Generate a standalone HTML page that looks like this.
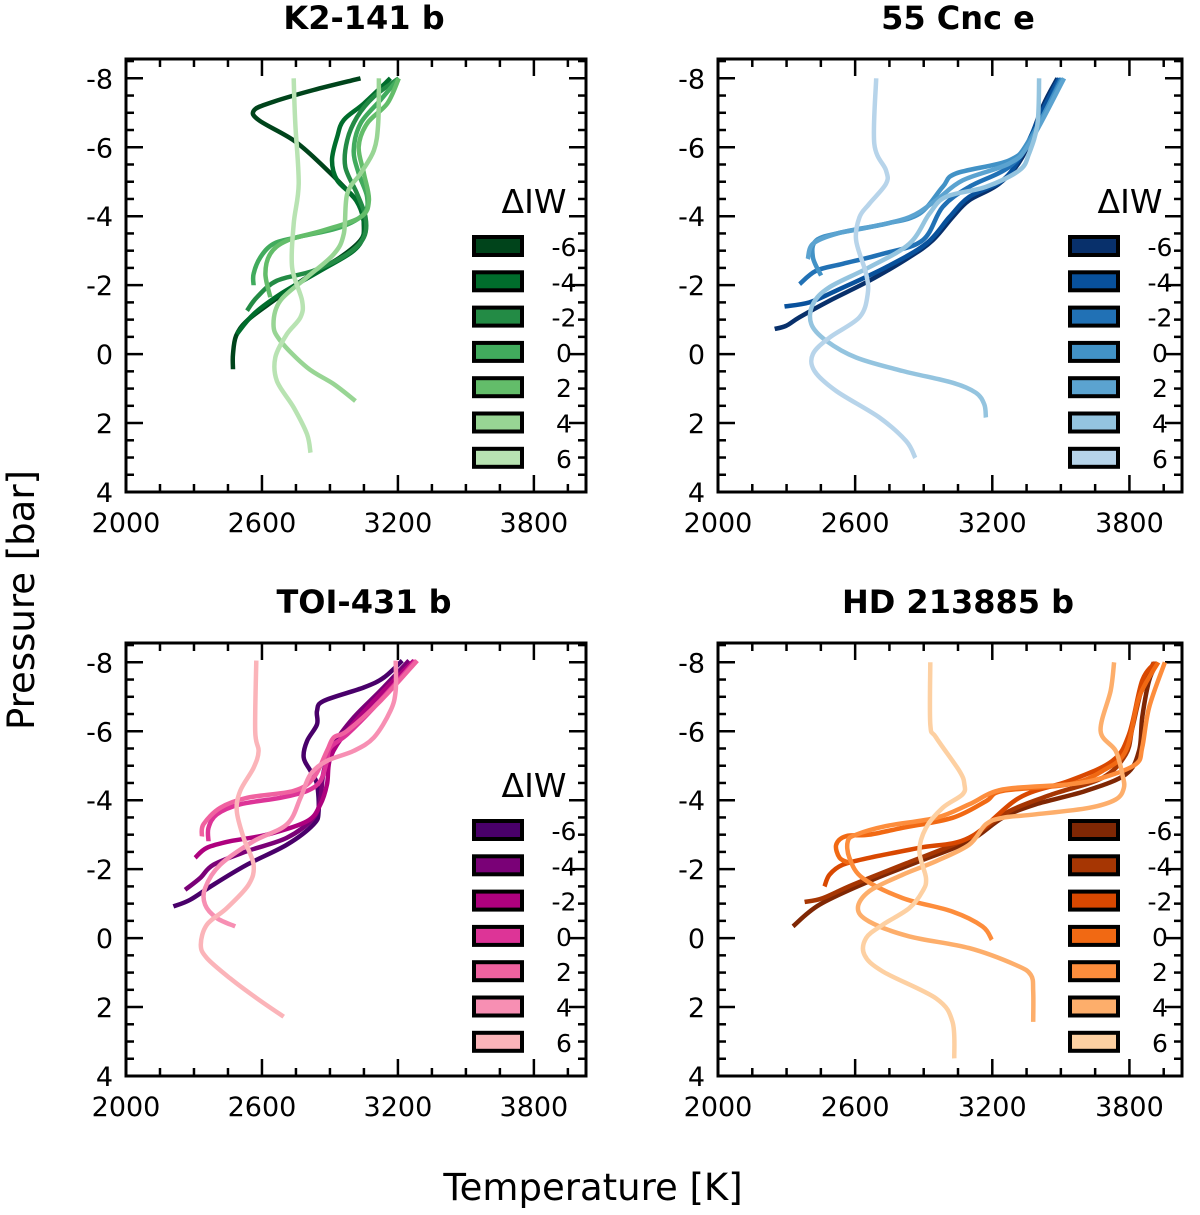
<!DOCTYPE html>
<html><head><meta charset="utf-8"><style>body{margin:0;background:#fff}svg{display:block;font-family:"DejaVu Sans","Liberation Sans",sans-serif}</style></head>
<body>
<svg id="fig" width="1200" height="1215" viewBox="0 0 1200 1215">
<text x="593" y="1200" font-size="37" text-anchor="middle">Temperature [K]</text>
<text transform="translate(34,600) rotate(-90)" font-size="37" text-anchor="middle">Pressure [bar]</text>
</svg>
<script>
const dIW = ["-6","-4","-2","0","2","4","6"];
const xTicks = [2000,2600,3200,3800];
const yTicks = [-8,-6,-4,-2,0,2,4];
const titles = ["K2-141 b","55 Cnc e","TOI-431 b","HD 213885 b"];
const greens = ["#00441b","#006d2c","#238b45","#41ab5d","#63bd6a","#98d594","#b8e3b2"];
const blues = ["#08306b","#08519c","#2171b5","#4292c6","#5ba3d0","#94c4df","#b7d4ea"];
const purples = ["#49006a","#7a0177","#ae017e","#dd3497","#f062a0","#f78fb3","#fbb4b9"];
const oranges = ["#7f2704","#a63603","#d94801","#f16913","#fd8d3c","#fdae6b","#fdd0a2"];

const k2T = [
[3035,2828,2651,2566,2585,2740,2858,2976,3035,3050,3035,2946,2799,2651,2534,2486,2472,2472],
[3167,3050,2961,2932,2909,2932,3005,3042,3050,3005,2858,2681,2563,2489],
[3204,3094,3020,2976,2968,3020,3057,3050,2976,2828,2666,2578,2534],
[3204,3123,3035,3005,3027,3064,3050,2946,2755,2651,2593,2563,2563],
[3204,3153,3064,3027,3050,3072,3035,2873,2710,2637,2615,2637],
[3116,3113,3094,3035,2976,2961,2917,2799,2681,2651,2681,2799,2917,3013],
[2740,2747,2762,2740,2733,2777,2770,2710,2659,2666,2740,2799,2814]];
const k2P = [
[-8,-7.66,-7.32,-7.08,-6.79,-6.2,-5.53,-4.75,-4.27,-3.68,-3.3,-2.81,-2.23,-1.55,-0.97,-0.53,0,0.44],
[-8,-7.27,-6.79,-6.3,-5.62,-5.04,-4.56,-4.07,-3.49,-3.0,-2.42,-1.74,-1.16,-0.58],
[-8,-7.47,-6.88,-6.2,-5.43,-4.65,-3.97,-3.39,-2.9,-2.42,-2.13,-1.65,-1.26],
[-8,-7.37,-6.69,-5.91,-5.24,-4.56,-4.07,-3.68,-3.39,-3.2,-2.81,-2.33,-2.0],
[-8,-7.27,-6.69,-6.01,-5.24,-4.46,-3.97,-3.59,-3.29,-2.91,-2.33,-1.65],
[-8,-6.69,-5.91,-5.24,-4.65,-3.49,-2.9,-2.23,-1.55,-0.87,-0.39,0.39,0.87,1.36],
[-8,-6.69,-4.94,-3.78,-2.52,-1.55,-1.07,-0.58,0.10,0.78,1.55,2.33,2.86]];

const cncT = [
[3485,3420,3332,3230,3099,3026,2939,2837,2662,2488,2357,2298,2248],
[3492,3420,3332,3245,3099,3012,2910,2735,2517,2400,2291],
[3500,3376,3274,3099,2983,2895,2721,2546,2430,2357],
[3507,3361,3274,3041,2983,2881,2735,2546,2430,2415,2451],
[3514,3361,3274,3070,2954,2837,2662,2517,2415,2393],
[3405,3398,3361,3318,3172,2997,2925,2837,2662,2488,2415,2408,2473,2604,2808,3026,3128,3165,3172],
[2692,2684,2735,2735,2662,2619,2604,2648,2655,2619,2488,2415,2422,2517,2706,2823,2863]];
const cncP = [
[-8,-7.18,-5.72,-4.94,-4.46,-3.97,-3.30,-2.81,-2.13,-1.55,-1.07,-0.82,-0.73],
[-8,-7.08,-5.82,-5.04,-4.56,-3.97,-3.2,-2.52,-1.84,-1.50,-1.38],
[-8,-6.30,-5.43,-4.85,-4.27,-3.30,-2.91,-2.62,-2.42,-2.03],
[-8,-6.2,-5.62,-5.24,-4.85,-4.07,-3.78,-3.54,-3.30,-2.81,-2.28],
[-8,-6.1,-5.53,-5.04,-4.46,-3.97,-3.68,-3.49,-3.2,-2.76],
[-8,-6.69,-5.82,-5.33,-4.85,-4.56,-4.07,-3.20,-2.52,-1.94,-1.45,-0.87,-0.39,0.10,0.49,0.83,1.12,1.46,1.84],
[-8,-6.1,-5.33,-4.94,-4.36,-3.97,-3.30,-2.33,-1.74,-1.07,-0.48,0,0.49,1.07,1.84,2.52,3.01]];

const toiT = [
[3219,3138,3049,2873,2843,2843,2799,2784,2814,2843,2850,2828,2710,2534,2386,2283,2209],
[3249,3123,3005,2917,2873,2858,2828,2710,2534,2386,2327,2261],
[3271,3123,2976,2902,2887,2858,2799,2622,2460,2357,2305],
[3278,3094,2976,2902,2887,2858,2799,2681,2504,2401,2364,2364],
[3285,3123,2976,2917,2887,2828,2740,2534,2416,2342,2335],
[3190,3190,3167,3094,3005,2887,2814,2770,2710,2563,2416,2349,2349,2401,2482],
[2575,2570,2585,2563,2504,2489,2519,2563,2541,2445,2357,2330,2357,2460,2578,2696]];
const toiP = [
[-8.05,-7.56,-7.27,-6.88,-6.59,-6.2,-5.72,-5.24,-4.85,-4.46,-3.68,-3.3,-2.71,-2.13,-1.55,-1.11,-0.92],
[-8.05,-7.18,-6.40,-5.62,-4.85,-4.07,-3.49,-2.91,-2.52,-2.13,-1.74,-1.40],
[-8.05,-7.08,-6.01,-5.24,-4.46,-3.88,-3.39,-3.0,-2.81,-2.62,-2.33],
[-8.05,-6.69,-5.91,-5.53,-5.14,-4.56,-4.27,-4.07,-3.88,-3.59,-3.20,-2.81],
[-8.05,-6.88,-6.01,-5.82,-5.43,-4.65,-4.27,-4.07,-3.78,-3.30,-2.95],
[-8.05,-7.18,-6.59,-5.82,-5.43,-5.14,-4.75,-4.07,-3.30,-2.81,-2.13,-1.45,-0.97,-0.58,-0.34],
[-8.05,-6.01,-5.43,-4.94,-4.27,-3.68,-2.91,-2.13,-1.55,-0.87,-0.39,0.19,0.58,1.17,1.75,2.28]];

const hdT = [
[3922,3886,3856,3842,3784,3609,3390,3245,3099,2881,2662,2444,2328],
[3907,3856,3813,3784,3682,3463,3274,3099,2808,2590,2459,2379],
[3915,3856,3798,3725,3536,3318,3099,2881,2662,2546,2488,2466],
[3926,3842,3784,3682,3536,3245,3172,3026,2808,2662,2561,2517,2532,2575],
[3955,3886,3856,3827,3682,3536,3245,3099,2954,2735,2604,2568,2575,2633,2808,3026,3157,3198],
[3733,3718,3674,3740,3769,3776,3740,3624,3390,3245,3172,3099,2954,2808,2662,2612,2662,2837,3099,3303,3369,3379,3379],
[2929,2929,2954,3056,3078,3070,2983,2910,2881,2910,2895,2837,2721,2648,2641,2721,2954,3026,3034]];
const hdP = [
[-8,-7.47,-6.40,-5.43,-4.75,-4.27,-3.88,-3.49,-2.81,-2.23,-1.65,-0.97,-0.34],
[-8,-7.27,-6.1,-5.33,-4.65,-4.17,-3.68,-2.91,-2.13,-1.55,-1.16,-1.05],
[-8,-7.47,-5.91,-5.14,-4.56,-4.07,-2.91,-2.62,-2.33,-2.13,-1.84,-1.50],
[-8,-6.98,-5.43,-4.85,-4.46,-4.27,-3.97,-3.49,-3.20,-3.0,-2.96,-2.71,-2.33,-2.18],
[-8,-6.69,-5.53,-5.04,-4.65,-4.46,-4.31,-3.88,-3.49,-3.25,-3.0,-2.81,-2.33,-1.74,-1.16,-0.77,-0.34,0.05],
[-8,-7.18,-6.01,-5.43,-4.75,-4.36,-4.02,-3.78,-3.59,-3.49,-3.30,-2.71,-2.23,-1.84,-1.36,-0.87,-0.48,-0.05,0.29,0.78,1.07,1.55,2.43],
[-8,-6.2,-5.82,-4.85,-4.46,-4.17,-3.78,-3.20,-2.52,-1.74,-1.36,-0.87,-0.39,0,0.49,0.97,1.75,2.43,3.49]];

const NS = "http://www.w3.org/2000/svg";
const svg = document.getElementById("fig");
function mk(tag, attrs, parent){const e=document.createElementNS(NS,tag);for(const k in attrs)e.setAttribute(k,attrs[k]);(parent||svg).appendChild(e);return e;}
function smooth(pts){
  let d="M"+pts[0][0].toFixed(1)+","+pts[0][1].toFixed(1);
  for(let i=0;i<pts.length-1;i++){
    const p0=pts[Math.max(0,i-1)],p1=pts[i],p2=pts[i+1],p3=pts[Math.min(pts.length-1,i+2)];
    const c1=[p1[0]+(p2[0]-p0[0])/6,p1[1]+(p2[1]-p0[1])/6];
    const c2=[p2[0]-(p3[0]-p1[0])/6,p2[1]-(p3[1]-p1[1])/6];
    d+=" C"+c1[0].toFixed(1)+","+c1[1].toFixed(1)+" "+c2[0].toFixed(1)+","+c2[1].toFixed(1)+" "+p2[0].toFixed(1)+","+p2[1].toFixed(1);
  }
  return d;
}

const panels = [
 {x:126,y:59,w:460,T:k2T,P:k2P,c:greens,leg:true,name:"k2-141b"},
 {x:718,y:59,w:464,T:cncT,P:cncP,c:blues,leg:true,name:"55cnce"},
 {x:126,y:643,w:460,T:toiT,P:toiP,c:purples,leg:true,name:"toi-431b"},
 {x:718,y:643,w:464,T:hdT,P:hdP,c:oranges,leg:false,name:"hd213885b"}];
const H = 433, XMIN=2000, XMAX=4030, YMIN=-8.56, YMAX=4;

panels.forEach((pn,pi)=>{
  const g = mk("g",{});
  
  
  const xs = t => pn.x + (t-XMIN)/(XMAX-XMIN)*pn.w;
  const ys = p => pn.y + (p-YMIN)/(YMAX-YMIN)*H;
  const tt = mk("text",{x:pn.x+pn.w/2+8,y:pn.y-30,"font-size":32,"font-weight":"bold","text-anchor":"middle"},g);
  tt.textContent = titles[pi];
  
  
  const bot = pn.y+H, right = pn.x+pn.w;
  for(let t=XMIN;t<=XMAX;t+=150){
    const major = (t-2000)%600===0, L = major?17:8, X=xs(t);
    mk("line",{x1:X,x2:X,y1:bot,y2:bot-L,stroke:"#000","stroke-width":2.5},g);
    mk("line",{x1:X,x2:X,y1:pn.y,y2:pn.y+L,stroke:"#000","stroke-width":2.5},g);
  }
  for(let p=-8.5;p<=4;p+=0.5){
    const major = Math.abs(p%2)<1e-9, L = major?17:8, Y=ys(p);
    mk("line",{x1:pn.x,x2:pn.x+L,y1:Y,y2:Y,stroke:"#000","stroke-width":2.5},g);
    mk("line",{x1:right,x2:right-L,y1:Y,y2:Y,stroke:"#000","stroke-width":2.5},g);
  }
  xTicks.forEach(t=>{
    const e=mk("text",{x:xs(t),y:bot+40,"font-size":27,"text-anchor":"middle"},g);
    e.textContent=t;
    
    
  });
  yTicks.forEach(p=>{
    const e=mk("text",{x:pn.x-13,y:ys(p)+10,"font-size":27,"text-anchor":"end"},g);
    e.textContent=p;
    
    
  });
  pn.T.forEach((arr,si)=>{
    const pts = arr.map((t,i)=>[xs(t),ys(pn.P[si][i])]);
    const l = mk("path",{d:smooth(pts),fill:"none",stroke:pn.c[si],"stroke-width":4.5,"stroke-linejoin":"round","stroke-linecap":"butt"},g);
    
    
  });
  mk("rect",{x:pn.x,y:pn.y,width:pn.w,height:H,fill:"none",stroke:"#000","stroke-width":3},g);
  const lg = mk("g",{},g);
  
  
  const lx = right-112, ly0 = pn.y+178;
  if(pn.leg){
    const ti = mk("text",{x:right-52,y:pn.y+154,"font-size":33,"text-anchor":"middle"},lg);
    ti.textContent = "ΔIW";
    
    
  }
  dIW.forEach((v,i)=>{
    const yy = ly0 + i*35.3;
    const r = mk("rect",{x:lx,y:yy,width:48,height:18,fill:pn.c[i],stroke:"#000","stroke-width":4},lg);
    
    
    const t = mk("text",{x:lx+90,y:yy+19,"font-size":25,"text-anchor":"middle"},lg);
    t.textContent = v;
    
    
  });
});
</script>
</body></html>
